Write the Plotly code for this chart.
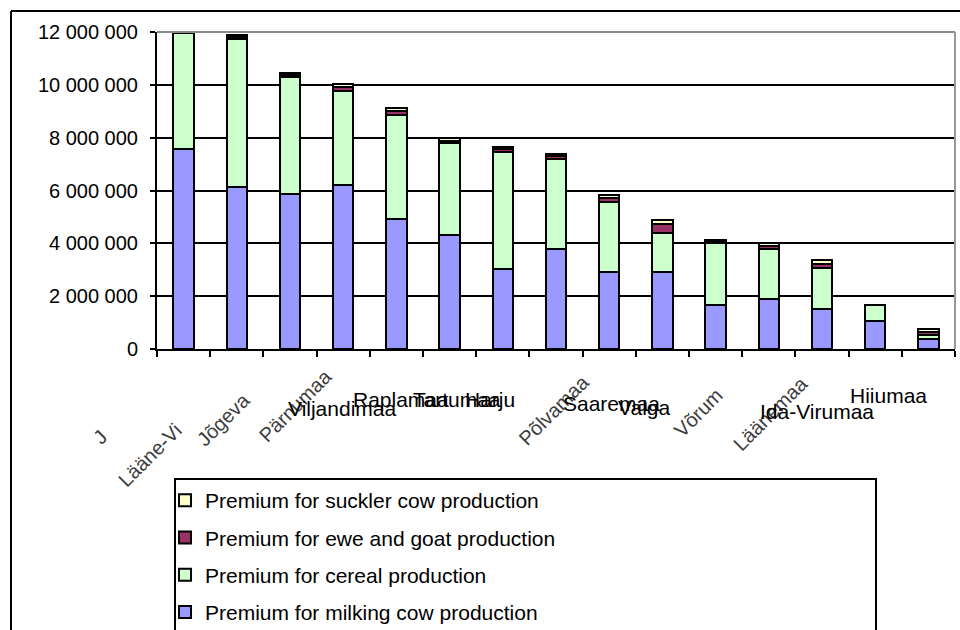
import plotly.graph_objects as go

# Estonian counties, ordered by total premium
counties = ["Järvamaa", "Lääne-Virumaa", "Jõgevamaa", "Pärnumaa", "Viljandimaa",
            "Raplamaa", "Tartumaa", "Harjumaa", "Põlvamaa", "Saaremaa",
            "Valgamaa", "Võrumaa", "Läänemaa", "Ida-Virumaa", "Hiiumaa"]

milking_cow = [7_560_000, 6_140_000, 5_870_000, 6_210_000, 4_920_000,
               4_300_000, 3_020_000, 3_770_000, 2_930_000, 2_930_000,
               1_670_000, 1_890_000, 1_510_000, 1_060_000, 380_000]
cereal = [4_390_000, 5_580_000, 4_410_000, 3_560_000, 3_940_000,
          3_490_000, 4_450_000, 3_410_000, 2_650_000, 1_450_000,
          2_330_000, 1_880_000, 1_570_000, 610_000, 150_000]
ewe_goat = [45_000, 95_000, 90_000, 140_000, 140_000,
            100_000, 90_000, 110_000, 130_000, 370_000,
            60_000, 130_000, 130_000, 0, 120_000]
suckler_cow = [35_000, 70_000, 75_000, 125_000, 125_000,
               85_000, 75_000, 90_000, 115_000, 130_000,
               50_000, 115_000, 160_000, 0, 110_000]

# (name, values, colour, legend rank) -- stacked bottom to top
series = [
    ("Premium for milking cow production", milking_cow, "#9999FF", 4),
    ("Premium for cereal production", cereal, "#CCFFCC", 3),
    ("Premium for ewe and goat production", ewe_goat, "#993366", 2),
    ("Premium for suckler cow production", suckler_cow, "#FFFFCC", 1),
]

# ---- page geometry (pixels) ----
W, H = 960, 630
PL, PR, PT, PB = 157, 955, 32, 349          # plot area edges


def px(x):
    return (x - PL) / (PR - PL)


def py(y):
    return (PB - y) / (PB - PT)


FONT = "Arial, Liberation Sans, sans-serif"

fig = go.Figure()
for i, (name, vals, color, rank) in enumerate(series):
    fig.add_trace(go.Bar(
        x=counties, y=vals, name=name, legendgroup=f"g{i}", legendrank=rank,
        marker=dict(color=color, line=dict(color="black", width=2)),
    ))

# category labels: (shown characters, centre x, centre y, angle)
label_layout = {
    0: (1, 100, 437, -45),
    1: (8, 150, 455, -45),
    2: (6, 223, 420, -45),
    3: (None, 295, 406, -45),
    4: (None, 342, 408, 0),
    5: (None, 401, 400, 0),
    6: (None, 457, 400, 0),
    7: (5, 490, 400, 0),
    8: (None, 554, 410, -45),
    9: (None, 611, 403, 0),
    10: (5, 644, 407, 0),
    11: (5, 698, 413, -45),
    12: (None, 770, 414, -45),
    13: (None, 817, 411, 0),
    14: (None, 888, 395, 0),
}
annotations = []
for idx, (cut, cx, cy, ang) in label_layout.items():
    text = counties[idx] if cut is None else counties[idx][:cut]
    annotations.append(dict(
        text=text, x=px(cx), y=py(cy), xref="paper", yref="paper",
        xanchor="center", yanchor="middle", textangle=ang, showarrow=False,
        font=dict(family=FONT, size=21 if ang == 0 else 20,
                  color="black" if ang == 0 else "#3c3c3c"),
    ))

shapes = [
    # outer chart frame (left and top edges)
    dict(type="line", xref="paper", yref="paper", x0=px(11), x1=px(W + 5),
         y0=py(11), y1=py(11), line=dict(color="black", width=2)),
    dict(type="line", xref="paper", yref="paper", x0=px(11), x1=px(11),
         y0=py(11), y1=py(H + 5), line=dict(color="black", width=2)),
    # plot area border (top and right)
    dict(type="line", xref="paper", yref="paper", x0=0, x1=1, y0=1, y1=1,
         line=dict(color="#8a8a8a", width=2)),
    dict(type="line", xref="paper", yref="paper", x0=1, x1=1, y0=0, y1=1,
         line=dict(color="#9a9a9a", width=2)),
    # legend frame
    dict(type="rect", xref="paper", yref="paper", x0=px(175), x1=px(876),
         y0=py(479), y1=py(H + 10), line=dict(color="black", width=2),
         fillcolor="white"),
]

fig.update_layout(
    width=W, height=H,
    margin=dict(l=PL, r=W - PR, t=PT, b=H - PB, pad=0, autoexpand=False),
    barmode="stack", bargap=0.62,
    paper_bgcolor="white", plot_bgcolor="white",
    separators=". ",
    font=dict(family=FONT, color="black"),
    showlegend=True,
    legend=dict(
        xref="container", yref="container",
        x=165 / W, y=1 - 480 / H, xanchor="left", yanchor="top",
        traceorder="grouped", tracegroupgap=7,
        bgcolor="rgba(0,0,0,0)", borderwidth=0,
        font=dict(family=FONT, size=21, color="black"),
    ),
    xaxis=dict(
        type="category", showgrid=False, showline=True, linecolor="black",
        linewidth=2, ticks="outside", tickson="boundaries", ticklen=6,
        tickcolor="black", tickwidth=2, showticklabels=False,
        range=[-0.5, len(counties) - 0.5],
    ),
    yaxis=dict(
        range=[0, 12_000_000], dtick=2_000_000, tickformat=",d",
        showgrid=True, gridcolor="black", gridwidth=1.5, zeroline=False,
        showline=True, linecolor="black", linewidth=2,
        ticks="outside", ticklen=5, tickcolor="black", tickwidth=2,
        ticklabelstandoff=8,
        tickfont=dict(family=FONT, size=20, color="black"),
    ),
    shapes=shapes,
    annotations=annotations,
)

fig.write_html("out.html")
